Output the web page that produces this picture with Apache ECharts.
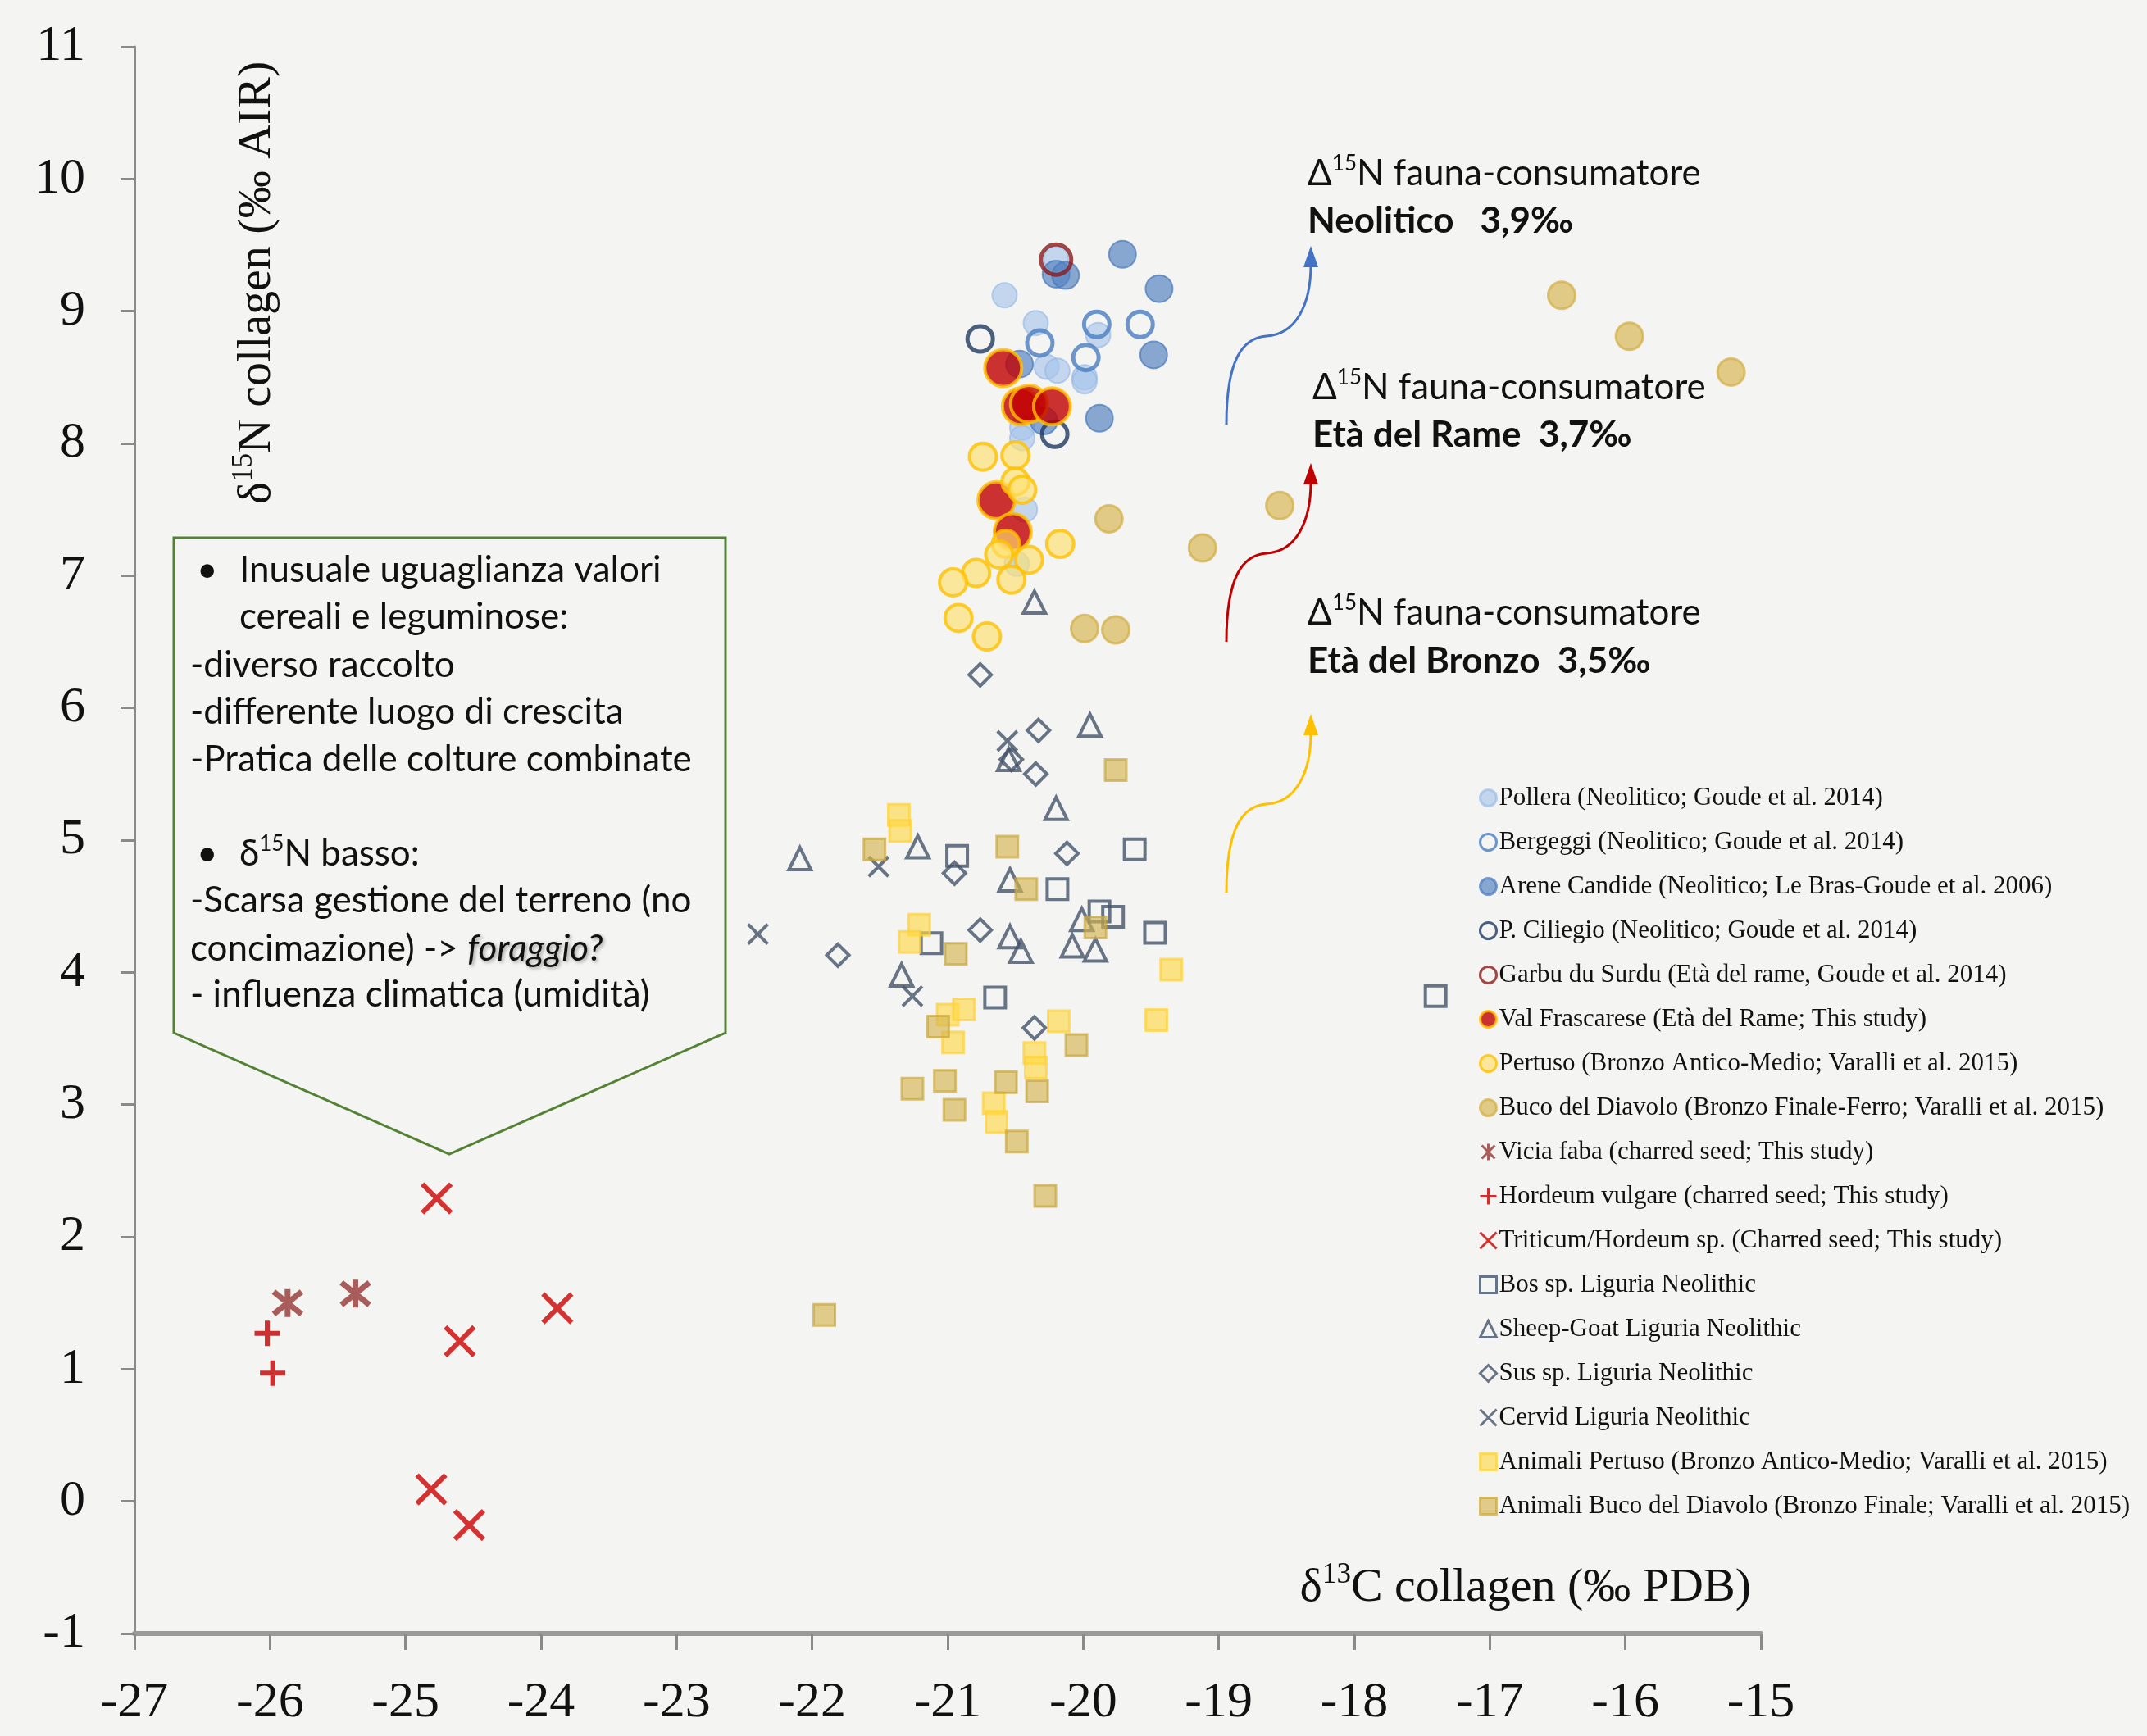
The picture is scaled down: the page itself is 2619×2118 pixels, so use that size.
<!DOCTYPE html>
<html><head><meta charset="utf-8">
<script src="https://cdn.jsdelivr.net/npm/echarts@6/dist/echarts.min.js"></script>
<style>html,body{margin:0;padding:0;background:#f4f4f2}#c{width:2619px;height:2118px}</style>
</head><body><div id="c"></div>
<script>
// ---- axis ranges ----
const xMin = -27, xMax = -15, xStep = 1;
const yMin = -1, yMax = 11, yStep = 1;

// ---- series data: [d13C, d15N] ----
const pollera = [[-20.58,9.12],[-20.35,8.91],[-19.89,8.82],[-20.27,8.58],[-20.19,8.55],[-19.99,8.50],[-19.99,8.47],[-20.45,8.12],[-20.45,8.04],[-20.43,7.50],[-20.49,7.09],[-20.20,9.40]];
const bergeggi = [[-20.32,8.76],[-19.90,8.90],[-19.58,8.90],[-19.98,8.65]];
const areneCandide = [[-20.20,9.28],[-20.13,9.27],[-19.71,9.43],[-19.44,9.17],[-19.48,8.67],[-19.88,8.19],[-20.47,8.60],[-20.29,8.17]];
const ciliegio = [[-20.76,8.79],[-20.21,8.07]];
const garbuDuSurdu = [[-20.20,9.39]];
const valFrascarese = [[-20.59,8.57],[-20.46,8.28],[-20.40,8.30],[-20.23,8.28],[-20.64,7.57],[-20.52,7.33]];
const pertuso = [[-20.74,7.90],[-20.50,7.91],[-20.50,7.71],[-20.45,7.65],[-20.17,7.24],[-20.57,7.24],[-20.62,7.16],[-20.40,7.12],[-20.79,7.02],[-20.53,6.97],[-20.96,6.95],[-20.92,6.68],[-20.71,6.54]];
const bucoDiavolo = [[-19.81,7.43],[-19.12,7.21],[-19.99,6.60],[-19.76,6.59],[-16.47,9.12],[-15.97,8.81],[-15.22,8.54],[-18.55,7.53]];
const viciaFaba = [[-25.87,1.50],[-25.37,1.57]];
const hordeum = [[-26.02,1.27],[-25.98,0.97]];
const triticum = [[-24.77,2.29],[-23.88,1.46],[-24.60,1.21],[-24.81,0.09],[-24.53,-0.18]];
const bos = [[-20.93,4.88],[-20.19,4.63],[-19.62,4.93],[-19.88,4.46],[-19.78,4.42],[-19.47,4.30],[-21.12,4.22],[-20.65,3.81],[-17.40,3.82]];
const sheepGoat = [[-20.36,6.80],[-19.95,5.87],[-20.55,5.61],[-20.20,5.24],[-21.22,4.95],[-22.09,4.86],[-20.54,4.70],[-20.01,4.40],[-20.54,4.27],[-20.46,4.16],[-20.08,4.20],[-19.91,4.17],[-21.34,3.98]];
const sus = [[-20.33,5.83],[-20.53,5.61],[-20.35,5.50],[-20.95,4.75],[-20.12,4.90],[-20.76,4.32],[-21.81,4.13],[-20.36,3.58],[-20.76,6.25]];
const cervid = [[-20.56,5.75],[-21.51,4.80],[-22.40,4.29],[-21.26,3.82]];
const animaliPertuso = [[-21.36,5.19],[-21.35,5.07],[-21.21,4.36],[-21.28,4.23],[-21.00,3.68],[-20.88,3.72],[-20.96,3.47],[-20.18,3.63],[-20.36,3.39],[-20.35,3.28],[-20.66,3.01],[-20.64,2.87],[-19.35,4.02],[-19.46,3.64]];
const animaliBuco = [[-19.76,5.53],[-21.54,4.93],[-20.56,4.95],[-20.42,4.63],[-19.91,4.34],[-20.94,4.14],[-21.07,3.59],[-20.05,3.45],[-21.02,3.18],[-21.26,3.12],[-20.57,3.17],[-20.34,3.10],[-20.95,2.96],[-20.49,2.72],[-20.28,2.31],[-21.91,1.41]];

const names = [
 'Pollera (Neolitico; Goude et al. 2014)',
 'Bergeggi (Neolitico; Goude et al. 2014)',
 'Arene Candide (Neolitico; Le Bras-Goude et al. 2006)',
 'P. Ciliegio (Neolitico; Goude et al. 2014)',
 'Garbu du Surdu (Età del rame, Goude et al. 2014)',
 'Val Frascarese (Età del Rame; This study)',
 'Pertuso (Bronzo Antico-Medio; Varalli et al. 2015)',
 'Buco del Diavolo (Bronzo Finale-Ferro; Varalli et al. 2015)',
 'Vicia faba (charred seed; This study)',
 'Hordeum vulgare (charred seed; This study)',
 'Triticum/Hordeum sp. (Charred seed; This study)',
 'Bos sp. Liguria Neolithic',
 'Sheep-Goat Liguria Neolithic',
 'Sus sp. Liguria Neolithic',
 'Cervid Liguria Neolithic',
 'Animali Pertuso (Bronzo Antico-Medio; Varalli et al. 2015)',
 'Animali Buco del Diavolo (Bronzo Finale; Varalli et al. 2015)'
];

const X_PATH = 'path://M0,0L10,10M10,0L0,10';
const PLUS_PATH = 'path://M5,0L5,10M0,5L10,5';
const AST_PATH = 'path://M1,1L9,9M9,1L1,9M5,0L5,10';
const T = 'rgba(0,0,0,0)';
const NAVY = '#44546a';

function s(name, data, symbol, size, itemStyle){
  return {type:'scatter', name, data, symbol, symbolSize:size, itemStyle, emphasis:{disabled:true}, silent:true};
}
const series = [
  s(names[0], pollera, 'circle', 30, {color:'rgba(165,196,234,0.78)', borderColor:'rgba(150,185,230,0.8)', borderWidth:2}),
  s(names[1], bergeggi, 'circle', 31, {color:T, borderColor:'#4a7ec0', borderWidth:5}),
  s(names[2], areneCandide, 'circle', 33, {color:'rgba(84,130,194,0.85)', borderColor:'rgba(75,122,190,0.9)', borderWidth:2}),
  s(names[3], ciliegio, 'circle', 31, {color:T, borderColor:'#1f3a60', borderWidth:5}),
  s(names[4], garbuDuSurdu, 'circle', 37, {color:T, borderColor:'#8b1a1a', borderWidth:5}),
  s(names[5], valFrascarese, 'circle', 45, {color:'#c00000', borderColor:'#ffc000', borderWidth:4}),
  s(names[6], pertuso, 'circle', 33, {color:'rgba(255,224,110,0.82)', borderColor:'#ffc000', borderWidth:4}),
  s(names[7], bucoDiavolo, 'circle', 33, {color:'rgba(214,182,84,0.85)', borderColor:'rgba(210,175,70,0.9)', borderWidth:3}),
  s(names[8], viciaFaba, AST_PATH, 34, {color:T, borderColor:'#953735', borderWidth:7}),
  s(names[9], hordeum, PLUS_PATH, 31, {color:T, borderColor:'#c00000', borderWidth:6}),
  s(names[10], triticum, X_PATH, 35, {color:T, borderColor:'#cc0000', borderWidth:6}),
  s(names[11], bos, 'rect', 25, {color:T, borderColor:NAVY, borderWidth:4}),
  s(names[12], sheepGoat, 'triangle', 27, {color:T, borderColor:NAVY, borderWidth:4}),
  s(names[13], sus, 'diamond', 27, {color:T, borderColor:NAVY, borderWidth:4}),
  s(names[14], cervid, X_PATH, 24, {color:T, borderColor:NAVY, borderWidth:4}),
  s(names[15], animaliPertuso, 'rect', 26, {color:'rgba(255,216,70,0.8)', borderColor:'rgba(255,208,50,0.85)', borderWidth:3}),
  s(names[16], animaliBuco, 'rect', 26, {color:'rgba(212,180,80,0.8)', borderColor:'rgba(200,165,60,0.85)', borderWidth:3})
];

const SERIF = "'Liberation Serif','Times New Roman',serif";
const SANS = "Lato,'Open Sans',sans-serif";
const supRich = (fs, font, weight) => ({
  a:{fontSize:fs, fontFamily:font, fontWeight:weight||'normal', lineHeight:fs*1.15, fill:'#111'},
  s:{fontSize:Math.round(fs*0.6), fontFamily:font, lineHeight:Math.round(fs*0.6), verticalAlign:'top', fill:'#111'},
  b:{fontSize:fs, fontFamily:font, fontWeight:'bold', lineHeight:fs*1.15, fill:'#111'},
  i:{fontSize:fs, fontFamily:font, fontStyle:'italic', lineHeight:fs*1.15, fill:'#111', textShadowColor:'rgba(0,0,0,0.35)', textShadowBlur:4, textShadowOffsetX:2, textShadowOffsetY:2}
});

function txt(x, y, text, fs, font, opts){
  opts = opts || {};
  return {type:'text', x, y, rotation: opts.rotation || 0, silent:true, z:50,
    style:{text, fontSize:fs, fontFamily:font, fontWeight:opts.weight||'normal', fill:'#111',
      align:opts.align||'left', verticalAlign:'middle', textAlign:opts.align||'left', textVerticalAlign:'middle',
      rich: supRich(fs, font, opts.weight)}};
}
function arrow(x0, y0, color){
  // S-shaped arrow, bottom-start (x0,y0)
  return [
    {type:'bezierCurve', silent:true, z:40, shape:{x1:x0, y1:y0, cpx1:x0, cpy1:y0-80, cpx2:x0+20, cpy2:y0-106, x2:x0+49, y2:y0-108}, style:{stroke:color, lineWidth:3, fill:null}},
    {type:'bezierCurve', silent:true, z:40, shape:{x1:x0+49, y1:y0-108, cpx1:x0+84, cpy1:y0-110, cpx2:x0+103, cpy2:y0-145, x2:x0+103, y2:y0-195}, style:{stroke:color, lineWidth:3, fill:null}},
    {type:'polygon', silent:true, z:40, shape:{points:[[x0+103,y0-218],[x0+94,y0-192],[x0+112,y0-192]]}, style:{fill:color}}
  ];
}

const BOX_FS = 44;
const graphic = [
  // y-axis title (rotated)
  txt(314, 345, '{a|δ}{s|15}{a|N collagen (‰ AIR)}', 58, SERIF, {rotation:Math.PI/2, align:'center'}),
  // x-axis title
  txt(2136, 1938, '{a|δ}{s|13}{a|C collagen (‰ PDB)}', 58, SERIF, {align:'right'}),
  // annotation box
  {type:'polygon', silent:true, z:30, shape:{points:[[212,656],[885,656],[885,1260],[548,1408],[212,1260]]}, style:{fill:null, stroke:'#548235', lineWidth:3}},
  txt(240, 696, '•', BOX_FS, SANS),
  txt(292, 696, 'Inusuale uguaglianza valori', BOX_FS, SANS),
  txt(292, 753, 'cereali e leguminose:', BOX_FS, SANS),
  txt(232, 812, '-diverso raccolto', BOX_FS, SANS),
  txt(232, 869, '-differente luogo di crescita', BOX_FS, SANS),
  txt(232, 927, '-Pratica delle colture combinate', BOX_FS, SANS),
  txt(240, 1042, '•', BOX_FS, SANS),
  txt(292, 1042, '{a|δ}{s|15}{a|N basso:}', BOX_FS, SANS),
  txt(232, 1099, '-Scarsa gestione del terreno (no', BOX_FS, SANS),
  txt(232, 1158, '{a|concimazione) -> }{i|foraggio?}', BOX_FS, SANS),
  txt(232, 1214, '- influenza climatica (umidità)', BOX_FS, SANS),
  // Δ15N annotations
  txt(1595, 212, '{a|Δ}{s|15}{a|N fauna-consumatore}', 44, SANS),
  txt(1595, 270, '{b|Neolitico   3,9‰}', 44, SANS),
  txt(1601, 473, '{a|Δ}{s|15}{a|N fauna-consumatore}', 44, SANS),
  txt(1601, 531, '{b|Età del Rame  3,7‰}', 44, SANS),
  txt(1595, 748, '{a|Δ}{s|15}{a|N fauna-consumatore}', 44, SANS),
  txt(1595, 807, '{b|Età del Bronzo  3,5‰}', 44, SANS),
  ...arrow(1496, 518, '#4472c4'),
  ...arrow(1496, 783, '#c00000'),
  ...arrow(1496, 1089, '#ffc000')
];

const chart = echarts.init(document.getElementById('c'));
chart.setOption({
  backgroundColor:'#f4f4f2',
  animation:false,
  grid:{left:164, right:471, top:57, bottom:125},
  xAxis:{type:'value', min:xMin, max:xMax, interval:xStep,
    axisLine:{show:true, onZero:false, lineStyle:{color:'#9a9a9a', width:6}},
    axisTick:{show:true, length:20, inside:false, lineStyle:{color:'#8a8a8a', width:3}},
    axisLabel:{fontSize:62, fontFamily:SERIF, color:'#111', margin:54},
    splitLine:{show:false}},
  yAxis:{type:'value', min:yMin, max:yMax, interval:yStep,
    axisLine:{show:true, onZero:false, lineStyle:{color:'#8a8a8a', width:3}},
    axisTick:{show:true, length:17, inside:false, lineStyle:{color:'#8a8a8a', width:3}},
    axisLabel:{fontSize:62, fontFamily:SERIF, color:'#111', margin:60},
    splitLine:{show:false}},
  legend:{orient:'vertical', left:1799, top:953, itemWidth:20, itemHeight:20, itemGap:23,
    data:names, selectedMode:false,
    itemStyle:{borderWidth:3},
    textStyle:{fontSize:31, fontFamily:SERIF, color:'#111', lineHeight:31, padding:[0,0,0,-2]}},
  series,
  graphic
});
</script></body></html>
